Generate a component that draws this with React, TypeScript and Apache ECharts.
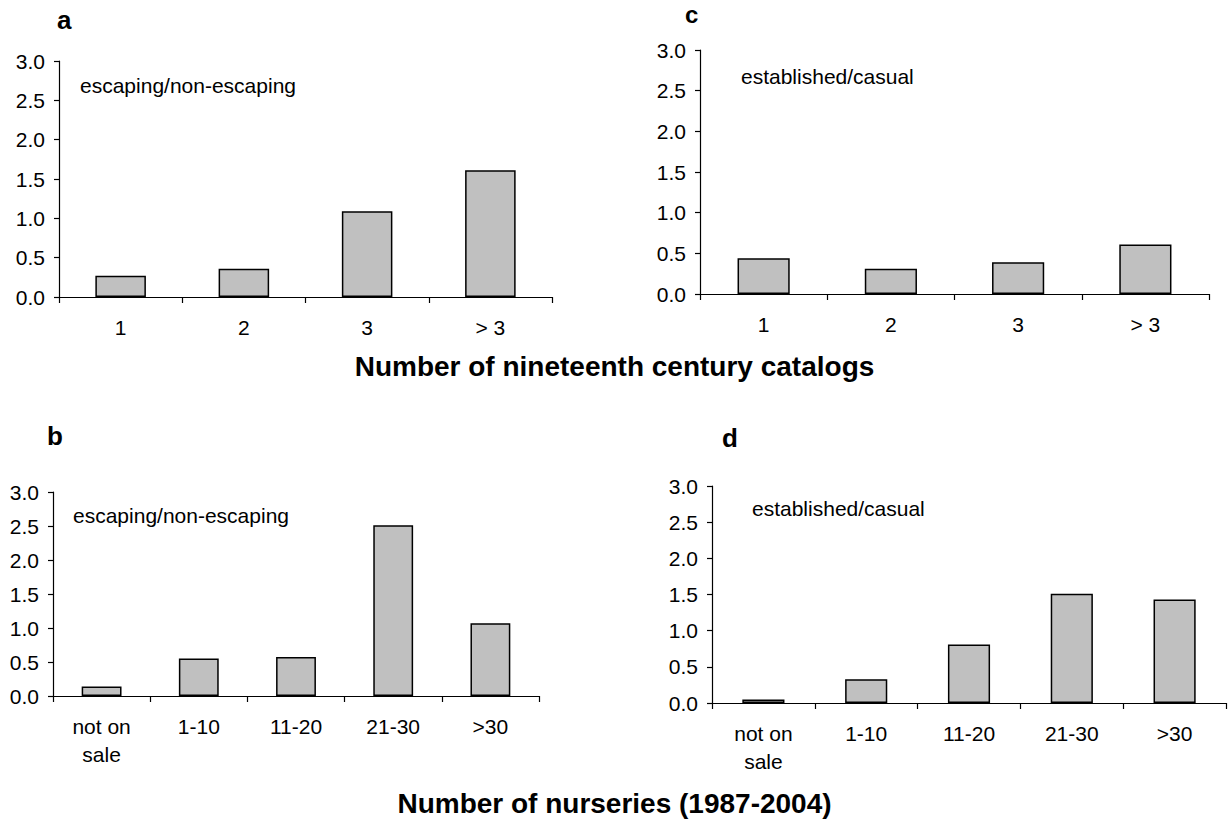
import React, { useEffect, useRef } from "react";
import * as echarts from "echarts";

const catalogCategories = ["1", "2", "3", "> 3"];
const nurseryCategories = ["not on\nsale", "1-10", "11-20", "21-30", ">30"];
const panelA = [0.27, 0.36, 1.09, 1.61];
const panelC = [0.44, 0.31, 0.39, 0.61];
const panelB = [0.14, 0.55, 0.575, 2.51, 1.07];
const panelD = [0.05, 0.33, 0.81, 1.51, 1.43];
const yTicks = { min: 0, max: 3, interval: 0.5 };

const FONT = "Liberation Sans, Arial, sans-serif";

export default function App() {
  const ref = useRef<HTMLDivElement>(null);
  useEffect(() => {
    if (!ref.current) return;
    const chart = echarts.init(ref.current, null, { renderer: "svg" });
    const grids = [
      { left: 59, top: 61, width: 493, height: 236 },
      { left: 700, top: 50, width: 509, height: 244 },
      { left: 53, top: 492, width: 486, height: 204 },
      { left: 712, top: 486, width: 514, height: 217 },
    ];
    const cats = [catalogCategories, catalogCategories, nurseryCategories, nurseryCategories];
    const data = [panelA, panelC, panelB, panelD];
    const xAxis = grids.map((_, i) => ({
      type: "category",
      gridIndex: i,
      data: cats[i],
      boundaryGap: true,
      axisLine: { lineStyle: { color: "#000", width: 1.2 } },
      axisTick: { show: true, length: 6, inside: false, lineStyle: { color: "#000", width: 1.2 } },
      axisLabel: { color: "#000", fontSize: 21, fontFamily: FONT, margin: 16, lineHeight: 28, interval: 0 },
      splitLine: { show: false },
    }));
    const yAxis = grids.map((_, i) => ({
      type: "value",
      gridIndex: i,
      min: yTicks.min,
      max: yTicks.max,
      interval: yTicks.interval,
      axisLine: { show: true, lineStyle: { color: "#000", width: 1.2 } },
      axisTick: { show: true, length: 5, lineStyle: { color: "#000", width: 1.2 } },
      axisLabel: {
        color: "#000",
        fontSize: 21,
        fontFamily: FONT,
        margin: 14,
        formatter: (v: number) => v.toFixed(1),
      },
      splitLine: { show: false },
    }));
    const series = data.map((d, i) => ({
      type: "bar",
      xAxisIndex: i,
      yAxisIndex: i,
      data: d,
      barWidth: "41%",
      itemStyle: { color: "#c0c0c0", borderColor: "#000", borderWidth: 1.5 },
      silent: true,
    }));
    const txt = (left: number, top: number, text: string, size: number, bold = false) => ({
      type: "text",
      left,
      top,
      style: {
        text,
        fontSize: size,
        fontFamily: FONT,
        fontWeight: bold ? "bold" : "normal",
        fill: "#000",
      },
    });
    chart.setOption({
      animation: false,
      backgroundColor: "#fff",
      grid: grids,
      xAxis,
      yAxis,
      series,
      graphic: [
        txt(57, 7, "a", 26, true),
        txt(685, 2, "c", 24, true),
        txt(47, 423, "b", 26, true),
        txt(722, 425, "d", 26, true),
        txt(80, 75, "escaping/non-escaping", 21),
        txt(741, 66, "established/casual", 21),
        txt(73, 505, "escaping/non-escaping", 21),
        txt(752, 498, "established/casual", 21),
        {
          type: "text",
          left: "center",
          top: 352,
          style: { text: "Number of nineteenth century catalogs", fontSize: 28, fontWeight: "bold", fontFamily: FONT, fill: "#000" },
        },
        {
          type: "text",
          top: 789,
          left: "center",
          style: { text: "Number of nurseries (1987-2004)", fontSize: 28, fontWeight: "bold", fontFamily: FONT, fill: "#000" },
        },
      ],
    });
    return () => chart.dispose();
  }, []);
  return (
    <div
      ref={ref}
      style={{ position: "fixed", left: 0, top: 0, width: 1229, height: 821, background: "#fff" }}
    />
  );
}
